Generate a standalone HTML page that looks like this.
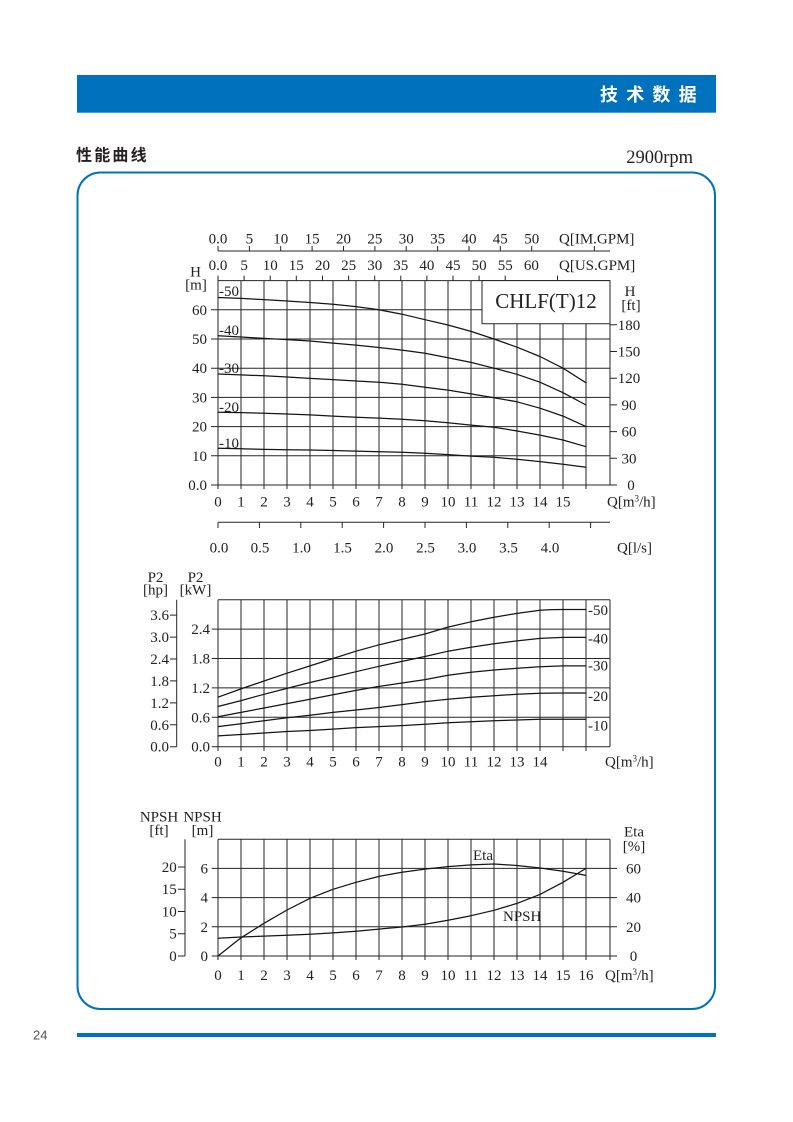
<!DOCTYPE html>
<html>
<head>
<meta charset="utf-8">
<style>
  html, body { margin:0; padding:0; background:#fff; }
  body { width:793px; height:1122px; overflow:hidden; }
  svg { display:block; }
  .t { font-family:"Liberation Serif", serif; font-size:15px; fill:#222; }
  .g { stroke:#262626; stroke-width:1; fill:none; }
  .c { stroke:#151515; stroke-width:1.25; fill:none; stroke-linejoin:round; stroke-linecap:round; }
  .cjk { font-family:"Liberation Sans","Noto Sans CJK SC",sans-serif; font-weight:bold; }
</style>
</head>
<body>
<svg width="793" height="1122" viewBox="0 0 793 1122" xmlns="http://www.w3.org/2000/svg">
  <!-- Header -->
  <rect x="77" y="75" width="639" height="37.7" fill="#0071BC"/>
  <g class="cjk" font-size="18" fill="#ffffff">
    <text x="600" y="101">技</text>
    <text x="626.2" y="101">术</text>
    <text x="652.4" y="101">数</text>
    <text x="678.6" y="101">据</text>
  </g>
  <g class="cjk" font-size="16" fill="#231f20">
    <text x="76" y="160.5">性</text>
    <text x="94.2" y="160.5">能</text>
    <text x="112.4" y="160.5">曲</text>
    <text x="130.6" y="160.5">线</text>
  </g>
  <text x="693" y="163" text-anchor="end" font-family="Liberation Serif, serif" font-size="18.5" fill="#222">2900rpm</text>

  <!-- Rounded frame -->
  <rect x="77.5" y="172.5" width="637.5" height="836.5" rx="23" ry="23" fill="none" stroke="#0071BC" stroke-width="2"/>

  <!-- Footer -->
  <text x="33" y="1039.5" font-family="Liberation Sans, sans-serif" font-size="13" fill="#555">24</text>
  <rect x="77" y="1033" width="639" height="4" fill="#0071BC"/>

  <!-- ================= CHART 1 ================= -->
  <path class="g" d="M218 251 H610
    M218 246 V251 M249.4 246 V251 M280.7 246 V251 M312.1 246 V251 M343.5 246 V251 M374.9 246 V251
    M406.2 246 V251 M437.6 246 V251 M469 246 V251 M500.3 246 V251 M531.7 246 V251 M594.4 246 V251"/>
  <g class="t" text-anchor="middle">
    <text x="218" y="243.5">0.0</text><text x="249.4" y="243.5">5</text><text x="280.7" y="243.5">10</text>
    <text x="312.1" y="243.5">15</text><text x="343.5" y="243.5">20</text><text x="374.9" y="243.5">25</text>
    <text x="406.2" y="243.5">30</text><text x="437.6" y="243.5">35</text><text x="469" y="243.5">40</text>
    <text x="500.3" y="243.5">45</text><text x="531.7" y="243.5">50</text>
  </g>
  <text class="t" x="559" y="243.5">Q[IM.GPM]</text>
  <path class="g" d="M218 275.6 V280.6 M244.1 275.6 V280.6 M270.2 275.6 V280.6 M296.3 275.6 V280.6 M322.5 275.6 V280.6
    M348.6 275.6 V280.6 M374.7 275.6 V280.6 M400.8 275.6 V280.6 M426.9 275.6 V280.6 M453 275.6 V280.6
    M479.1 275.6 V280.6 M505.2 275.6 V280.6 M557.5 275.6 V280.6"/>
  <g class="t" text-anchor="middle">
    <text x="218" y="270">0.0</text><text x="244.1" y="270">5</text><text x="270.2" y="270">10</text>
    <text x="296.3" y="270">15</text><text x="322.5" y="270">20</text><text x="348.6" y="270">25</text>
    <text x="374.7" y="270">30</text><text x="400.8" y="270">35</text><text x="426.9" y="270">40</text>
    <text x="453" y="270">45</text><text x="479.1" y="270">50</text><text x="505.2" y="270">55</text>
    <text x="531.4" y="270">60</text>
  </g>
  <text class="t" x="559" y="270">Q[US.GPM]</text>

  <path class="g" d="M218 280.6 V489 M241 280.6 V489 M264 280.6 V489 M287 280.6 V489 M310 280.6 V489 M333 280.6 V489
    M356 280.6 V489 M379 280.6 V489 M402 280.6 V489 M425 280.6 V489 M448 280.6 V489 M471 280.6 V489
    M494 280.6 V489 M517 280.6 V489 M540 280.6 V489 M563 280.6 V489 M586 280.6 V489 M610 280.6 V485
    M218 280.6 H610 M211 309.8 H610 M211 339 H610 M211 368.2 H610 M211 397.4 H610 M211 426.6 H610
    M211 455.8 H610 M211 485 H617
    M610 324.8 H617 M610 351.5 H617 M610 378.2 H617 M610 404.9 H617 M610 431.6 H617 M610 458.3 H617"/>
  <polyline class="c" points="218,297.5 241,298.4 264,299.6 287,301.0 310,302.5 333,304.3 356,306.6 379,309.8 402,314.2 425,319.7 448,325.0 471,331.4 494,339.0 517,347.2 540,356.5 563,368.2 586,382.8"/>
  <polyline class="c" points="218,335.8 241,337.0 264,338.4 287,339.6 310,341.0 333,343.1 356,345.1 379,347.5 402,350.1 425,353.3 448,357.7 471,362.4 494,368.2 517,374.3 540,382.2 563,392.7 586,405.0"/>
  <polyline class="c" points="218,374.0 241,374.9 264,375.8 287,377.0 310,378.4 333,379.6 356,381.0 379,382.2 402,384.3 425,387.2 448,390.1 471,393.9 494,397.7 517,401.8 540,408.2 563,416.1 586,426.6"/>
  <polyline class="c" points="218,412.3 241,412.6 264,413.2 287,414.0 310,414.9 333,416.1 356,417.3 379,418.1 402,419.3 425,420.8 448,422.8 471,425.1 494,427.2 517,431.0 540,435.1 563,440.0 586,446.7"/>
  <polyline class="c" points="218,448.2 241,448.8 264,449.4 287,449.7 310,450.0 333,450.5 356,451.1 379,451.7 402,452.3 425,453.2 448,454.6 471,456.1 494,457.3 517,459.3 540,461.6 563,464.3 586,467.2"/>
  <path d="M482 280.6 V323.8 H610 V280.6 Z" fill="#fff" stroke="#262626" stroke-width="1"/>
  <text x="546" y="308" text-anchor="middle" font-family="Liberation Serif, serif" font-size="21" fill="#222">CHLF(T)12</text>
  <g class="t">
    <text x="219" y="296">-50</text>
    <text x="219" y="335">-40</text>
    <text x="219" y="373">-30</text>
    <text x="219" y="412">-20</text>
    <text x="219" y="448">-10</text>
  </g>
  <text class="t" x="195.5" y="276.5" text-anchor="middle">H</text>
  <text class="t" x="196" y="289.5" text-anchor="middle">[m]</text>
  <g class="t" text-anchor="end">
    <text x="207" y="490">0.0</text><text x="207" y="460.8">10</text><text x="207" y="431.6">20</text>
    <text x="207" y="402.4">30</text><text x="207" y="373.2">40</text><text x="207" y="344">50</text>
    <text x="207" y="314.8">60</text>
  </g>
  <text class="t" x="630" y="296" text-anchor="middle">H</text>
  <text class="t" x="631" y="310" text-anchor="middle">[ft]</text>
  <g class="t" text-anchor="middle">
    <text x="629" y="329.8">180</text><text x="629" y="356.5">150</text><text x="629" y="383.2">120</text>
    <text x="629" y="409.9">90</text><text x="629" y="436.6">60</text><text x="629" y="463.3">30</text>
    <text x="631" y="490">0</text>
  </g>
  <g class="t" text-anchor="middle">
    <text x="218" y="506.5">0</text><text x="241" y="506.5">1</text><text x="264" y="506.5">2</text>
    <text x="287" y="506.5">3</text><text x="310" y="506.5">4</text><text x="333" y="506.5">5</text>
    <text x="356" y="506.5">6</text><text x="379" y="506.5">7</text><text x="402" y="506.5">8</text>
    <text x="425" y="506.5">9</text><text x="448" y="506.5">10</text><text x="471" y="506.5">11</text>
    <text x="494" y="506.5">12</text><text x="517" y="506.5">13</text><text x="540" y="506.5">14</text>
    <text x="563" y="506.5">15</text>
  </g>
  <text class="t" x="607" y="506.5">Q[m<tspan font-size="9" dy="-5">3</tspan><tspan dy="5">/h]</tspan></text>
  <path class="g" d="M218 522.3 H610 M218 522.3 V528 M259.4 522.3 V528 M300.8 522.3 V528 M342.2 522.3 V528
    M383.6 522.3 V528 M425 522.3 V528 M466.4 522.3 V528 M507.8 522.3 V528 M549.2 522.3 V528 M590.6 522.3 V528"/>
  <g class="t" text-anchor="middle">
    <text x="219" y="552.5">0.0</text><text x="260" y="552.5">0.5</text><text x="301.5" y="552.5">1.0</text>
    <text x="342.5" y="552.5">1.5</text><text x="384" y="552.5">2.0</text><text x="425.5" y="552.5">2.5</text>
    <text x="467" y="552.5">3.0</text><text x="508.5" y="552.5">3.5</text><text x="550" y="552.5">4.0</text>
  </g>
  <text class="t" x="617" y="552.5">Q[l/s]</text>

  <!-- ================= CHART 2 ================= -->
  <text class="t" x="155.5" y="582" text-anchor="middle">P2</text>
  <text class="t" x="155.5" y="594.5" text-anchor="middle">[hp]</text>
  <text class="t" x="195.5" y="582" text-anchor="middle">P2</text>
  <text class="t" x="195.5" y="594.5" text-anchor="middle">[kW]</text>
  <path class="g" d="M218 599.7 V751 M241 599.7 V751 M264 599.7 V751 M287 599.7 V751 M310 599.7 V751 M333 599.7 V751
    M356 599.7 V751 M379 599.7 V751 M402 599.7 V751 M425 599.7 V751 M448 599.7 V751 M471 599.7 V751
    M494 599.7 V751 M517 599.7 V751 M540 599.7 V751 M563 599.7 V751 M586 599.7 V751 M610 599.7 V746.7
    M218 599.7 H610 M211.7 629.1 H610 M211.7 658.5 H610 M211.7 687.9 H610 M211.7 717.3 H610 M211.7 746.7 H610
    M176.7 599.7 V746.7 M170 746.7 H176.7 M170 724.8 H176.7 M170 702.9 H176.7 M170 680.9 H176.7
    M170 659 H176.7 M170 637.1 H176.7 M170 615.1 H176.7"/>
  <polyline class="c" points="218,697.2 241,688.9 264,681.0 287,673.2 310,665.9 333,658.5 356,651.2 379,644.8 402,639.4 425,634.0 448,627.1 471,621.8 494,617.3 517,613.4 540,610.3 552,609.6 563,609.5 586,609.5"/>
  <polyline class="c" points="218,706.5 241,700.6 264,694.3 287,688.4 310,682.5 333,677.1 356,671.7 379,666.3 402,661.4 425,656.5 448,651.2 471,647.2 494,643.8 517,640.9 540,638.4 563,637.4 586,637.4"/>
  <polyline class="c" points="218,716.8 241,712.4 264,708.0 287,703.6 310,699.2 333,694.8 356,690.4 379,686.4 402,683.0 425,679.6 448,675.2 471,672.2 494,670.0 517,668.3 540,666.8 563,665.9 586,665.9"/>
  <polyline class="c" points="218,726.6 241,723.7 264,720.7 287,717.8 310,715.3 333,712.4 356,710.0 379,707.5 402,704.6 425,701.6 448,699.2 471,697.2 494,695.7 517,694.3 540,693.3 563,693.0 586,693.0"/>
  <polyline class="c" points="218,735.9 241,734.5 264,733.0 287,731.5 310,730.5 333,729.1 356,727.6 379,726.6 402,725.6 425,724.2 448,722.7 471,721.7 494,720.7 517,720.0 540,719.3 563,719.3 586,719.3"/>
  <g class="t" text-anchor="end">
    <text x="169" y="751.7">0.0</text><text x="169" y="729.8">0.6</text><text x="169" y="707.9">1.2</text>
    <text x="169" y="685.9">1.8</text><text x="169" y="664">2.4</text><text x="169" y="642.1">3.0</text>
    <text x="169" y="620.1">3.6</text>
    <text x="210" y="751.7">0.0</text><text x="210" y="722.3">0.6</text><text x="210" y="692.9">1.2</text>
    <text x="210" y="663.5">1.8</text><text x="210" y="634.1">2.4</text>
  </g>
  <g class="t">
    <text x="588" y="615">-50</text>
    <text x="588" y="643.3">-40</text>
    <text x="588" y="670.7">-30</text>
    <text x="588" y="701">-20</text>
    <text x="588" y="730.7">-10</text>
  </g>
  <g class="t" text-anchor="middle">
    <text x="218" y="766.5">0</text><text x="241" y="766.5">1</text><text x="264" y="766.5">2</text>
    <text x="287" y="766.5">3</text><text x="310" y="766.5">4</text><text x="333" y="766.5">5</text>
    <text x="356" y="766.5">6</text><text x="379" y="766.5">7</text><text x="402" y="766.5">8</text>
    <text x="425" y="766.5">9</text><text x="448" y="766.5">10</text><text x="471" y="766.5">11</text>
    <text x="494" y="766.5">12</text><text x="517" y="766.5">13</text><text x="540" y="766.5">14</text>
  </g>
  <text class="t" x="605" y="766.5">Q[m<tspan font-size="9" dy="-5">3</tspan><tspan dy="5">/h]</tspan></text>

  <!-- ================= CHART 3 ================= -->
  <text class="t" x="159" y="821.5" text-anchor="middle">NPSH</text>
  <text class="t" x="159" y="835" text-anchor="middle">[ft]</text>
  <text class="t" x="202.5" y="821.5" text-anchor="middle">NPSH</text>
  <text class="t" x="202.5" y="835" text-anchor="middle">[m]</text>
  <text class="t" x="634" y="836.5" text-anchor="middle">Eta</text>
  <text class="t" x="634" y="851" text-anchor="middle">[%]</text>
  <path class="g" d="M218 839.2 V960 M241 839.2 V960 M264 839.2 V960 M287 839.2 V960 M310 839.2 V960 M333 839.2 V960
    M356 839.2 V960 M379 839.2 V960 M402 839.2 V960 M425 839.2 V960 M448 839.2 V960 M471 839.2 V960
    M494 839.2 V960 M517 839.2 V960 M540 839.2 V960 M563 839.2 V960 M586 839.2 V960 M610 839.2 V960
    M218 839.2 H610 M211.7 868.4 H617 M211.7 897.6 H617 M211.7 926.8 H617 M211.7 956 H617
    M185 839.2 V956 M178 956 H185 M178 933.7 H185 M178 911.5 H185 M178 889.2 H185 M178 867 H185"/>
  <polyline class="c" points="218,956 241,937.8 264,923.3 287,910.0 310,898.3 333,889.3 356,882.3 379,876.4 402,872.3 425,869.1 448,866.6 471,864.9 494,864.0 517,865.5 540,868.0 563,871.3 586,875.4"/>
  <polyline class="c" points="218,938.3 241,937.0 264,936.1 287,935.3 310,934.2 333,932.9 356,931.2 379,929.1 402,927.0 425,924.3 448,920.2 471,915.7 494,910.3 517,903.4 540,894.4 563,882.3 586,868.4"/>
  <text class="t" x="473" y="860">Eta</text>
  <text class="t" x="503" y="921">NPSH</text>
  <g class="t" text-anchor="end">
    <text x="176.7" y="961">0</text><text x="176.7" y="938.7">5</text><text x="176.7" y="916.5">10</text>
    <text x="176.7" y="894.2">15</text><text x="176.7" y="872">20</text>
    <text x="208" y="961">0</text><text x="208" y="931.8">2</text><text x="208" y="902.6">4</text>
    <text x="208" y="873.4">6</text>
  </g>
  <g class="t" text-anchor="middle">
    <text x="633.5" y="873.4">60</text><text x="633.5" y="902.6">40</text><text x="633.5" y="931.8">20</text>
    <text x="633.5" y="961">0</text>
  </g>
  <g class="t" text-anchor="middle">
    <text x="218" y="980">0</text><text x="241" y="980">1</text><text x="264" y="980">2</text>
    <text x="287" y="980">3</text><text x="310" y="980">4</text><text x="333" y="980">5</text>
    <text x="356" y="980">6</text><text x="379" y="980">7</text><text x="402" y="980">8</text>
    <text x="425" y="980">9</text><text x="448" y="980">10</text><text x="471" y="980">11</text>
    <text x="494" y="980">12</text><text x="517" y="980">13</text><text x="540" y="980">14</text>
    <text x="563" y="980">15</text><text x="586" y="980">16</text>
  </g>
  <text class="t" x="605" y="980">Q[m<tspan font-size="9" dy="-5">3</tspan><tspan dy="5">/h]</tspan></text>
</svg>
</body>
</html>
